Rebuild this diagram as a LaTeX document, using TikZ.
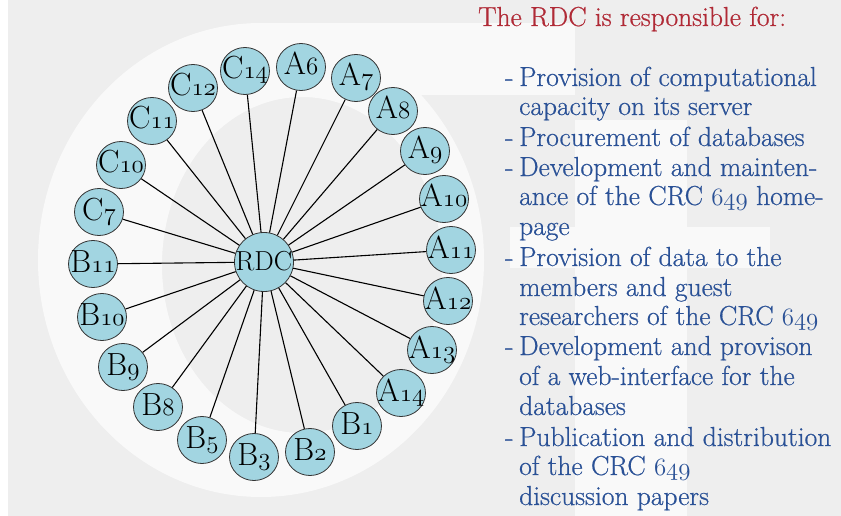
\documentclass[tikz,border=0pt]{standalone}
\usepackage{fontspec}
\setmainfont{Latin Modern Roman}
\newfontfamily\bodyfont{Latin Modern Roman}[FakeBold=0.6]
\usetikzlibrary{shapes.geometric}
\definecolor{bggray}{HTML}{EEEEEE}
\definecolor{wm}{HTML}{F9F9F9}
\definecolor{nodefill}{HTML}{A2D5E1}
\definecolor{titlered}{HTML}{B02A36}
\definecolor{bodyblue}{HTML}{2A5196}
\newcommand{\osn}[1]{{\fontencoding{OML}\fontfamily{lmm}\fontseries{m}\fontshape{it}\selectfont #1}}
\newcommand{\osnb}[1]{{\fontencoding{OML}\fontfamily{lmm}\fontseries{b}\fontshape{it}\selectfont #1}}
\newcommand{\dsh}{\makebox[14pt][l]{-}}
\tikzset{
  sat/.style={ellipse, draw=black!80, line width=0.8pt, fill=nodefill,
    minimum width=49pt, minimum height=47pt, inner sep=0pt,
    text height=16pt, text depth=0pt, font=\fontsize{32}{32}\selectfont},
  hub/.style={sat, minimum width=59pt, minimum height=59pt, font=\fontsize{27.5}{28}\selectfont},
  link/.style={line width=1.1pt, black},
  bodyline/.style={anchor=base west, inner sep=0pt, text=bodyblue, font=\bodyfont\fontsize{27.5}{30}\selectfont},
  titleline/.style={anchor=base west, inner sep=0pt, text=titlered, font=\bodyfont\fontsize{27.5}{30}\selectfont}
}
\begin{document}
\begin{tikzpicture}[x=1pt,y=-1pt]
\useasboundingbox (0,0) rectangle (841,516);
% background and watermark
\fill[white] (0,0) rectangle (841,516);
\fill[bggray] (8,0) rectangle (841,516);
\fill[wm, even odd rule] (261,260) ellipse [x radius=223, y radius=237]
   (302,265) ellipse [x radius=140, y radius=168];
\fill[wm] (261,23) rectangle (575,95);
\fill[wm] (575,120) rectangle (687,516);
\fill[wm] (510,227) rectangle (770,268);
% nodes
\node[hub] (RDC) at (264,262) {\makebox[0pt]{RDC}};
\node[sat] (C14) at (245,71) {\makebox[0pt]{C\osn{14}}};
\node[sat] (A6) at (301,67) {\makebox[0pt]{A\osn{6}}};
\node[sat] (A7) at (356,78) {\makebox[0pt]{A\osn{7}}};
\node[sat] (A8) at (393,111) {\makebox[0pt]{A\osn{8}}};
\node[sat] (A9) at (425,151) {\makebox[0pt]{A\osn{9}}};
\node[sat] (A10) at (444,199) {\makebox[0pt]{A\osn{10}}};
\node[sat] (A11) at (451,250) {\makebox[0pt]{A\osn{11}}};
\node[sat] (A12) at (448,301) {\makebox[0pt]{A\osn{12}}};
\node[sat] (A13) at (432,350) {\makebox[0pt]{A\osn{13}}};
\node[sat] (A14) at (401,393) {\makebox[0pt]{A\osn{14}}};
\node[sat] (B1) at (357,426) {\makebox[0pt]{B\osn{1}}};
\node[sat] (B2) at (310,452) {\makebox[0pt]{B\osn{2}}};
\node[sat] (B3) at (254,457) {\makebox[0pt]{B\osn{3}}};
\node[sat] (B5) at (202,440) {\makebox[0pt]{B\osn{5}}};
\node[sat] (B8) at (158,407) {\makebox[0pt]{B\osn{8}}};
\node[sat] (B9) at (123,367) {\makebox[0pt]{B\osn{9}}};
\node[sat] (B10) at (102,317) {\makebox[0pt]{B\osn{10}}};
\node[sat] (B11) at (93,264) {\makebox[0pt]{B\osn{11}}};
\node[sat] (C7) at (99,212) {\makebox[0pt]{C\osn{7}}};
\node[sat] (C10) at (121,165) {\makebox[0pt]{C\osn{10}}};
\node[sat] (C11) at (152,121) {\makebox[0pt]{C\osn{11}}};
\node[sat] (C12) at (193,88) {\makebox[0pt]{C\osn{12}}};
% connectors
\foreach \n in {C14,A6,A7,A8,A9,A10,A11,A12,A13,A14,B1,B2,B3,B5,B8,B9,B10,B11,C7,C10,C11,C12}
  \draw[link] (RDC) -- (\n);
% text
\node[titleline] (title) at (478,26) {The RDC is responsible for:};
\node[bodyline] (l1) at (505,86) {\dsh Provision of computational};
\node[bodyline] (l2) at (519,115) {capacity on its server};
\node[bodyline] (l3) at (505,146) {\dsh Procurement of databases};
\node[bodyline] (l4) at (505,176) {\dsh Development and mainten-};
\node[bodyline] (l5) at (519,205) {ance of the CRC \osnb{649} home-};
\node[bodyline] (l6) at (519,235) {page};
\node[bodyline] (l7) at (505,266) {\dsh Provision of data to the};
\node[bodyline] (l8) at (519,296) {members and guest};
\node[bodyline] (l9) at (519,325) {researchers of the CRC \osnb{649}};
\node[bodyline] (l10) at (505,355) {\dsh Development and provison};
\node[bodyline] (l11) at (519,385) {of a web-interface for the};
\node[bodyline] (l12) at (519,415) {databases};
\node[bodyline] (l13) at (505,446) {\dsh Publication and distribution};
\node[bodyline] (l14) at (519,475) {of the CRC \osnb{649}};
\node[bodyline] (l15) at (519,505) {discussion papers};
\end{tikzpicture}
\end{document}
